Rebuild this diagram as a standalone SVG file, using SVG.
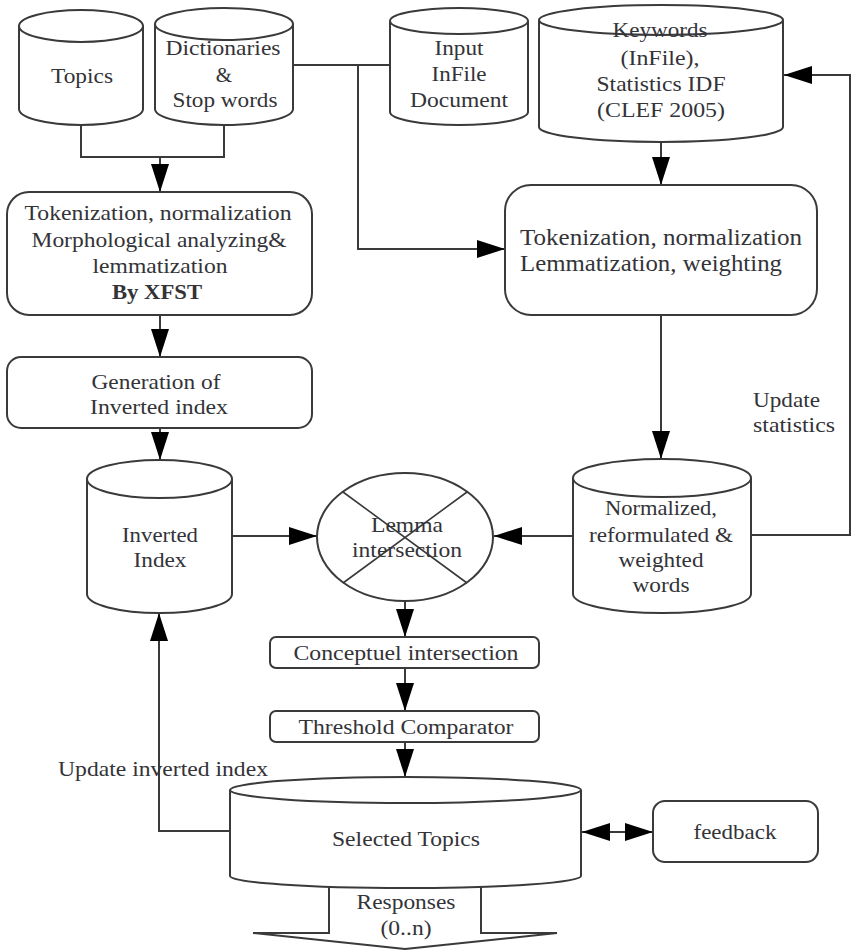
<svg xmlns="http://www.w3.org/2000/svg" width="852" height="950" viewBox="0 0 852 950">
  <style>
    .shape { fill: #ffffff; stroke: #3a3a3a; stroke-width: 2; }
    .thin { fill: none; stroke: #3a3a3a; stroke-width: 1.6; }
    .wire { fill: none; stroke: #3a3a3a; stroke-width: 2; }
    .arrow { fill: none; stroke: #3a3a3a; stroke-width: 2; marker-end: url(#head); }
    text { font-family: "Liberation Serif", "Times New Roman", serif; font-size: 21px; fill: #333338; text-anchor: middle; }
    .big { font-size: 23px; text-anchor: start; }
    .small { font-size: 20px; }
    .left { text-anchor: start; }
  </style>
  <defs>
    <marker id="head" viewBox="0 0 28 18" markerWidth="28" markerHeight="18" refX="28" refY="9" orient="auto-start-reverse" markerUnits="userSpaceOnUse">
      <path d="M0,0 L28,9 L0,18 Z" fill="#000000"/>
    </marker>
  </defs>

  <rect width="852" height="950" fill="#ffffff"/>

  <!-- connectors -->
  <g id="connectors">
    <path class="wire" d="M81,125 V157 H224 V125"/>
    <path class="arrow" d="M160,157 V192"/>
    <path class="wire" d="M293,65 H390"/>
    <path class="arrow" d="M358,65 V249 H505"/>
    <path class="arrow" d="M661,142 V185"/>
    <path class="arrow" d="M160,315 V357"/>
    <path class="arrow" d="M160,428 V460"/>
    <path class="arrow" d="M232,536 H317"/>
    <path class="arrow" d="M661,315 V459"/>
    <path class="arrow" d="M573,536 H494"/>
    <path class="arrow" d="M751,535 H850 V75 H784"/>
    <path class="arrow" d="M405,601 V637"/>
    <path class="arrow" d="M405,668 V711"/>
    <path class="arrow" d="M405,742 V777"/>
    <path class="arrow" d="M230,831 H159 V613"/>
    <path class="arrow" d="M582,832 H653" style="marker-start: url(#head)"/>
  </g>

  <!-- Topics -->
  <g id="topics">
    <path class="shape" d="M19,26 V109 A62,16 0 0 0 143,109 V26"/>
    <ellipse class="shape" cx="81" cy="26" rx="62" ry="16"/>
    <text x="82" y="83" textLength="62" lengthAdjust="spacingAndGlyphs">Topics</text>
  </g>

  <!-- Dictionaries & Stop words -->
  <g id="dictionaries">
    <path class="shape" d="M155,24 V109 A69,16 0 0 0 293,109 V24"/>
    <ellipse class="shape" cx="224" cy="24" rx="69" ry="16"/>
    <text x="223" y="55" textLength="115" lengthAdjust="spacingAndGlyphs">Dictionaries</text>
    <text x="224" y="82">&amp;</text>
    <text x="225" y="107" textLength="105" lengthAdjust="spacingAndGlyphs">Stop words</text>
  </g>

  <!-- Input InFile Document -->
  <g id="input-document">
    <path class="shape" d="M390,21 V112 A69,13 0 0 0 528,112 V21"/>
    <ellipse class="shape" cx="459" cy="21" rx="69" ry="13"/>
    <text x="459" y="55" textLength="49" lengthAdjust="spacingAndGlyphs">Input</text>
    <text x="459" y="81" textLength="55" lengthAdjust="spacingAndGlyphs">InFile</text>
    <text x="459" y="107" textLength="98" lengthAdjust="spacingAndGlyphs">Document</text>
  </g>

  <!-- Keywords / statistics store -->
  <g id="keywords">
    <path class="shape" d="M539,20 V127 A122,15 0 0 0 783,127 V20"/>
    <ellipse class="shape" cx="661" cy="20" rx="122" ry="15"/>
    <text x="660" y="37" textLength="95" lengthAdjust="spacingAndGlyphs">Keywords</text>
    <text x="660" y="65" textLength="79" lengthAdjust="spacingAndGlyphs">(InFile),</text>
    <text x="661" y="91" textLength="129" lengthAdjust="spacingAndGlyphs">Statistics IDF</text>
    <text x="661" y="117" textLength="128" lengthAdjust="spacingAndGlyphs">(CLEF 2005)</text>
  </g>

  <!-- Tokenization (topics side) -->
  <g id="tokenization-topics">
    <rect class="shape" x="7" y="192" width="305" height="123" rx="22"/>
    <text x="158" y="220" textLength="267" lengthAdjust="spacingAndGlyphs">Tokenization, normalization</text>
    <text x="159" y="247" textLength="255" lengthAdjust="spacingAndGlyphs">Morphological analyzing&amp;</text>
    <text x="160" y="273" textLength="135" lengthAdjust="spacingAndGlyphs">lemmatization</text>
    <text x="157" y="299" textLength="90" lengthAdjust="spacingAndGlyphs" font-weight="bold">By XFST</text>
  </g>

  <!-- Tokenization (document side) -->
  <g id="tokenization-document">
    <rect class="shape" x="505" y="185" width="312" height="130" rx="26"/>
    <text class="big" x="520" y="245" textLength="282" lengthAdjust="spacingAndGlyphs">Tokenization, normalization</text>
    <text class="big" x="520" y="271" textLength="262" lengthAdjust="spacingAndGlyphs">Lemmatization, weighting</text>
  </g>

  <!-- Generation of inverted index -->
  <g id="generation">
    <rect class="shape" x="7" y="357" width="305" height="71" rx="14"/>
    <text x="156" y="389" textLength="129" lengthAdjust="spacingAndGlyphs">Generation of</text>
    <text x="159" y="414" textLength="138" lengthAdjust="spacingAndGlyphs">Inverted index</text>
  </g>

  <!-- Inverted Index store -->
  <g id="inverted-index">
    <path class="shape" d="M87,479 V594 A72.5,19 0 0 0 232,594 V479"/>
    <ellipse class="shape" cx="159.5" cy="479" rx="72.5" ry="19"/>
    <text x="160" y="542" textLength="76" lengthAdjust="spacingAndGlyphs">Inverted</text>
    <text x="160" y="567" textLength="53" lengthAdjust="spacingAndGlyphs">Index</text>
  </g>

  <!-- Lemma intersection -->
  <g id="lemma-intersection">
    <ellipse class="shape" cx="405" cy="537" rx="88" ry="64"/>
    <path class="thin" d="M343,492 L467,583 M343,583 L467,492"/>
    <text x="407" y="532" textLength="72" lengthAdjust="spacingAndGlyphs">Lemma</text>
    <text x="407" y="557" textLength="110" lengthAdjust="spacingAndGlyphs">intersection</text>
  </g>

  <!-- Normalized words store -->
  <g id="normalized-words">
    <path class="shape" d="M573,478 V594 A89,19 0 0 0 751,594 V478"/>
    <ellipse class="shape" cx="662" cy="478" rx="89" ry="19"/>
    <text x="661" y="515" textLength="112" lengthAdjust="spacingAndGlyphs">Normalized,</text>
    <text x="661" y="542" textLength="144" lengthAdjust="spacingAndGlyphs">reformulated &amp;</text>
    <text x="661" y="567" textLength="85" lengthAdjust="spacingAndGlyphs">weighted</text>
    <text x="661" y="592" textLength="57" lengthAdjust="spacingAndGlyphs">words</text>
  </g>

  <!-- Update statistics label -->
  <g id="update-statistics">
    <text class="left" x="753" y="407" textLength="67" lengthAdjust="spacingAndGlyphs">Update</text>
    <text class="left" x="753" y="432" textLength="82" lengthAdjust="spacingAndGlyphs">statistics</text>
  </g>

  <!-- Conceptuel intersection -->
  <g id="conceptuel-intersection">
    <rect class="shape" x="270" y="637" width="269" height="31" rx="6"/>
    <text class="small" x="406" y="660" textLength="225" lengthAdjust="spacingAndGlyphs">Conceptuel intersection</text>
  </g>

  <!-- Threshold Comparator -->
  <g id="threshold-comparator">
    <rect class="shape" x="270" y="711" width="269" height="31" rx="6"/>
    <text class="small" x="406" y="734" textLength="215" lengthAdjust="spacingAndGlyphs">Threshold Comparator</text>
  </g>

  <!-- Update inverted index label -->
  <g id="update-inverted-index">
    <text class="left" x="58" y="776" textLength="210" lengthAdjust="spacingAndGlyphs">Update inverted index</text>
  </g>

  <!-- Responses output arrow -->
  <g id="responses">
    <path class="shape" d="M329,880 V933 H253 L405,949 L557,933 H481 V880"/>
    <text x="406" y="909" textLength="99" lengthAdjust="spacingAndGlyphs">Responses</text>
    <text x="406" y="935" textLength="51" lengthAdjust="spacingAndGlyphs">(0..n)</text>
  </g>

  <!-- Selected Topics store -->
  <g id="selected-topics">
    <path class="shape" d="M230,790 V876 A175.5,12 0 0 0 581,876 V790"/>
    <ellipse class="shape" cx="405.5" cy="790" rx="175.5" ry="13"/>
    <text x="406" y="846" textLength="148" lengthAdjust="spacingAndGlyphs">Selected Topics</text>
  </g>

  <!-- feedback -->
  <g id="feedback">
    <rect class="shape" x="653" y="801" width="165" height="61" rx="12"/>
    <text x="735" y="839" textLength="83" lengthAdjust="spacingAndGlyphs">feedback</text>
  </g>
</svg>
